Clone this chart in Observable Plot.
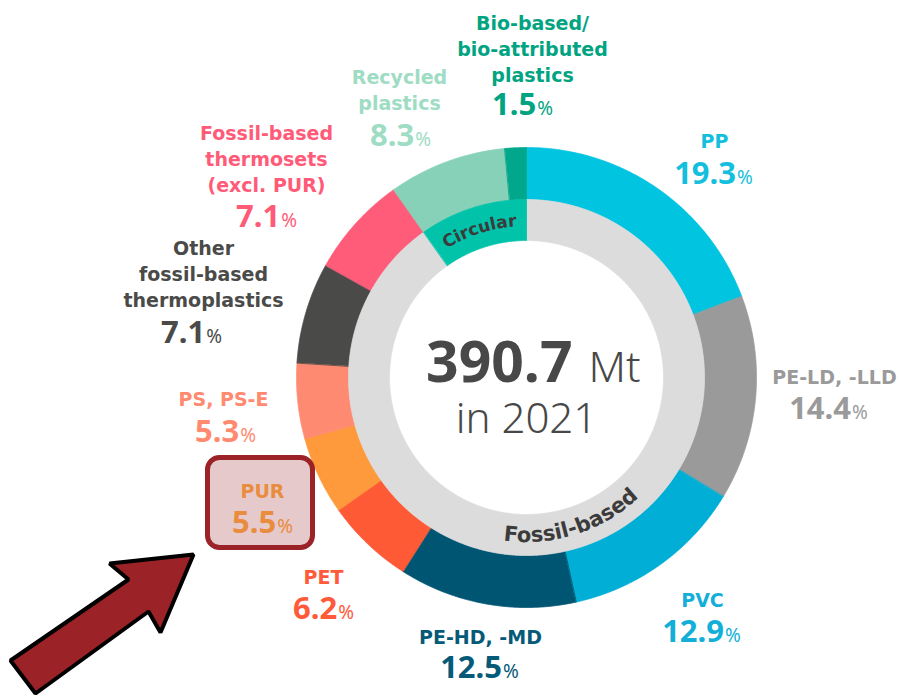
<!DOCTYPE html>
<html><head><meta charset="utf-8">
<script src="https://cdn.jsdelivr.net/npm/d3@7"></script>
<script src="https://cdn.jsdelivr.net/npm/@observablehq/plot@0.6"></script>
<style>
html,body{margin:0;padding:0;background:#fff;}
#chart svg{display:block;}
</style></head><body><div id="chart"></div>
<script>
// ---------- data ----------
const categories = ["PP","PE-LD, -LLD","PVC","PE-HD, -MD","PET","PUR","PS, PS-E",
  "Other fossil-based thermoplastics","Fossil-based thermosets (excl. PUR)","Recycled plastics","Bio-based/bio-attributed plastics"];
const shares = [19.3, 14.4, 12.9, 12.5, 6.2, 5.5, 5.3, 7.1, 7.1, 8.3, 1.5];
const nameLabels = ["PP","PE-LD, -LLD","PVC","PE-HD, -MD","PET","PUR","PS, PS-E",
  "Other\nfossil-based\nthermoplastics","Fossil-based\nthermosets\n(excl. PUR)","Recycled\nplastics","Bio-based/\nbio-attributed\nplastics"];
const groups = ["Fossil-based","Circular"];
const groupShares = [90.3, 9.8];
const totalMt = 390.7;
const totalUnit = "Mt";
const year = 2021;
const highlighted = "PUR";

// ---------- styles ----------
const sliceColors = ["#00c4e0","#9a9a9a","#00aed6","#005672","#ff5a36","#ff9a3c","#ff8a72","#4a4a48","#ff5c7a","#86d1b8","#00a78a"];
const labelColors = ["#13bfdc","#9a9a9a","#14afd8","#055a78","#ff5a3a","#e98c3e","#ff8a70","#4a4a48","#ff5b78","#9edcc4","#00a482"];
const groupColors = ["#dcdcdc","#00c3aa"];
const centerColor = "#484848";
const labelFont = "'DejaVu Sans', sans-serif";
const numberFont = "'Noto Sans', sans-serif";

// ---------- layout ----------
const W = 900, H = 696, cx = 526, cy = 377;
const rOuter = 230, rMid = 178, rInner = 137;
const namePos = [[714,139],[834,375],[702,598],[480,635],[323,575],[262,489],[223,397],[203,272],[266,157],[399,88],[532,47]];
const pctPos  = [[713,174],[828,409],[701,632],[479,668],[323,609],[262,523],[225,432],[191,333],[266,217],[400,136],[522,105]];
const boxRect = {x1: 207.5, x2: 312.5, y1: 457.5, y2: 547.5};
const arrowShape = [[193,554],[160,632],[148,611],[35,693],[10,660],[128,579],[109,563]];

// ---------- geometry helpers ----------
const rad = a => a * Math.PI / 180;
function ringPolygons(values, keys, colors, r0, r1) {
  const sum = d3.sum(values);
  const pts = [];
  let acc = 0;
  values.forEach((v, i) => {
    const a0 = acc / sum * 360, a1 = (acc + v) / sum * 360;
    acc += v;
    const n = Math.max(2, Math.ceil((a1 - a0) / 0.25));
    for (let k = 0; k <= n; k++) {
      const a = rad(a0 + (a1 - a0) * k / n);
      pts.push({key: keys[i], color: colors[i], x: cx + r1 * Math.sin(a), y: cy - r1 * Math.cos(a)});
    }
    for (let k = n; k >= 0; k--) {
      const a = rad(a0 + (a1 - a0) * k / n);
      pts.push({key: keys[i], color: colors[i], x: cx + r0 * Math.sin(a), y: cy - r0 * Math.cos(a)});
    }
  });
  return pts;
}
const outerPts = ringPolygons(shares, categories, sliceColors, rMid, rOuter);
const innerPts = ringPolygons(groupShares, groups, groupColors, rInner, rMid);

const gsum = d3.sum(groupShares);
const groupMid = groupShares.map((v, i) => (d3.sum(groupShares.slice(0, i)) + v / 2) / gsum * 360);

function curvedLabel(text, angle, r, top, fontSize, id) {
  return (index, scales) => {
    const X = scales.x, Y = scales.y;
    const span = 80;
    const a0 = top ? angle - span : angle + span;
    const a1 = top ? angle + span : angle - span;
    const p = a => [X(cx + r * Math.sin(rad(a))), Y(cy - r * Math.cos(rad(a)))];
    const rpx = X(cx + r) - X(cx);
    const [x0, y0] = p(a0), [x1, y1] = p(a1);
    const g = d3.create("svg:g");
    g.append("path").attr("id", id).attr("fill", "none")
      .attr("d", `M${x0},${y0}A${rpx},${rpx} 0 0 ${top ? 1 : 0} ${x1},${y1}`);
    g.append("text").attr("font-size", fontSize).attr("font-weight", 700).attr("fill", "#3b3b3b")
      .attr("font-family", labelFont)
      .append("textPath").attr("href", "#" + id).attr("startOffset", "50%").attr("text-anchor", "middle").text(text);
    return g.node();
  };
}

const idx = d3.range(categories.length);

const plot = Plot.plot({
  width: W, height: H, margin: 0,
  x: {domain: [0, W], range: [0, W], axis: null},
  y: {domain: [0, H], range: [0, H], axis: null},
  color: {type: "identity"},
  style: {fontFamily: numberFont, background: "#fff"},
  marks: [
    Plot.line(outerPts, {x: "x", y: "y", z: "key", fill: "color", stroke: "color", strokeWidth: 0.8, curve: "linear-closed"}),
    Plot.line(innerPts, {x: "x", y: "y", z: "key", fill: "color", stroke: "color", strokeWidth: 0.8, curve: "linear-closed"}),
    curvedLabel(groups[1], groupMid[1], 151, true, 17, "arcCirc"),
    curvedLabel(groups[0], groupMid[0], 165, false, 21, "arcFoss"),
    // highlight box for PUR
    Plot.rect([boxRect], {x1: "x1", x2: "x2", y1: "y1", y2: "y2", rx: 12, fill: "#e6c9ca", stroke: "#9b2226", strokeWidth: 5}),
    // arrow
    Plot.line(arrowShape, {x: d => d[0], y: d => d[1], fill: "#9b2226", stroke: "#000", strokeWidth: 4, strokeLinejoin: "miter", curve: "linear-closed"}),
    // names
    Plot.text(idx, {x: i => namePos[i][0], y: i => namePos[i][1], text: i => nameLabels[i], fill: i => labelColors[i],
      fontSize: 19, fontWeight: 700, fontFamily: labelFont, lineHeight: 1.38, textAnchor: "middle"}),
    // percentages
    Plot.text(idx, {x: i => pctPos[i][0], y: i => pctPos[i][1], text: i => shares[i].toFixed(1) + "%", fill: i => labelColors[i],
      fontSize: 31, fontWeight: 700, fontFamily: numberFont, textAnchor: "middle"}),
    // center
    Plot.text([totalMt], {x: cx + 46, y: 363, text: d => d.toFixed(1), fontSize: 57, fontWeight: 700, fill: centerColor, textAnchor: "end"}),
    Plot.text([totalUnit], {x: cx + 62, y: 368, text: d => d, fontSize: 43, fontWeight: 300, fill: centerColor, textAnchor: "start"}),
    Plot.text([year], {x: cx, y: 419, text: d => "in " + d, fontSize: 42, fontWeight: 300, fill: centerColor, textAnchor: "middle"})
  ]
});

// style "%" signs smaller and lighter
plot.querySelectorAll("text").forEach(t => {
  if (t.querySelector("tspan, textPath")) return;
  const m = /^(\d+(?:\.\d+)?)%$/.exec(t.textContent);
  if (!m) return;
  t.textContent = m[1];
  const ts = document.createElementNS("http://www.w3.org/2000/svg", "tspan");
  ts.setAttribute("font-size", "19");
  ts.setAttribute("font-weight", "400");
  ts.setAttribute("dx", "1");
  ts.textContent = "%";
  t.appendChild(ts);
});

document.getElementById("chart").appendChild(plot);
</script>
</body></html>
